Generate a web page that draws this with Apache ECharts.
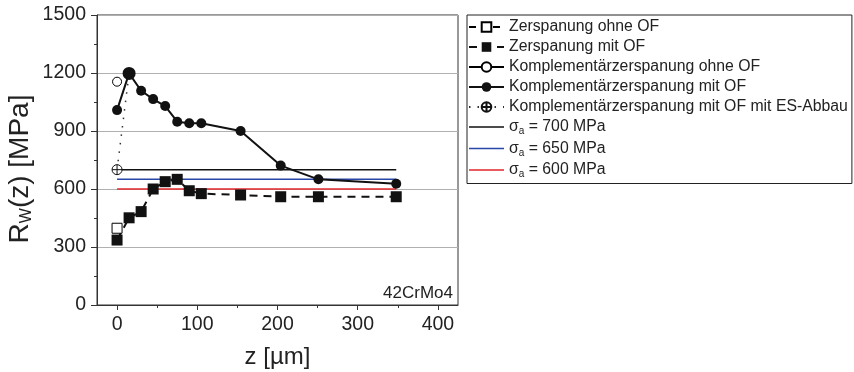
<!DOCTYPE html>
<html>
<head>
<meta charset="utf-8">
<script src="https://cdn.jsdelivr.net/npm/echarts@6/dist/echarts.min.js"></script>
<style>html,body{margin:0;padding:0;background:#fff}#c{width:854px;height:372px}</style>
</head>
<body>
<div id="c"></div>
<script>
// ---- data ----
var zerspOhneOF = [[0, 397]];
var zerspMitOF_x = [0, 15, 30, 45, 60, 75, 90, 105, 154, 204, 251, 348];
var zerspMitOF_y = [336, 451, 483, 600, 638, 650, 591, 576, 569, 560, 560, 560];
var komplOhneOF = [[0, 1155]];
var komplMitOF_x = [0, 15, 30, 45, 60, 75, 90, 105, 154, 204, 251, 348];
var komplMitOF_y = [1008, 1198, 1108, 1065, 1029, 948, 940, 940, 900, 721, 650, 627];
var esAbbau_x = [0, 15];
var esAbbau_y = [700, 1198];
var sigmaLevels = [700, 650, 600];
var sigmaRange = [0, 348];
var xTicks = [0, 100, 200, 300, 400];
var xMinorTicks = [50, 150, 250, 350];

var font = 'Liberation Sans, Arial, sans-serif';
function zip(xs, ys) { return xs.map(function (x, i) { return [x, ys[i]]; }); }
var plusCircle = 'path://M0,10A10,10,0,1,1,20,10A10,10,0,1,1,0,10ZM10,0L10,20M0,10L20,10';
var lineIcon = 'path://M0,0L0.01,0L0.01,0.01ZM0,5.3L35,5.3L35,6.7L0,6.7ZM34.99,12L35,12L35,11.99Z';

var sigmaNames = sigmaLevels.map(function (v) { return 'σa = ' + v + ' MPa'; });
var sigmaColors = ['#111111', '#2846a8', '#e2262a'];

var series = [
  {name: 'Zerspanung ohne OF', type: 'line', data: zerspOhneOF, symbol: 'rect', symbolSize: 10,
   itemStyle: {color: '#fff', borderColor: '#000', borderWidth: 1},
   lineStyle: {color: '#000', width: 2, type: [7, 5]}, z: 5},
  {name: 'Zerspanung mit OF', type: 'line', data: zip(zerspMitOF_x, zerspMitOF_y), symbol: 'rect', symbolSize: 11,
   itemStyle: {color: '#111'}, lineStyle: {color: '#111', width: 2, type: [8, 6]}, z: 4},
  {name: 'Komplementärzerspanung ohne OF', type: 'line', data: komplOhneOF, symbol: 'circle', symbolSize: 9,
   itemStyle: {color: '#fff', borderColor: '#000', borderWidth: 1}, lineStyle: {color: '#000', width: 2}, z: 5},
  {name: 'Komplementärzerspanung mit OF', type: 'line', data: zip(komplMitOF_x, komplMitOF_y), symbol: 'circle',
   symbolSize: function (v) { return v[0] === 15 ? 13 : 10; },
   itemStyle: {color: '#111'}, lineStyle: {color: '#111', width: 2}, z: 4},
  {name: 'Komplementärzerspanung mit OF mit ES-Abbau', type: 'line',
   data: zip(esAbbau_x, esAbbau_y).map(function (p, i) { return i === 0 ? {value: p} : {value: p, symbol: 'none'}; }),
   symbol: plusCircle, symbolSize: 10,
   itemStyle: {color: '#fff', borderColor: '#111', borderWidth: 1}, lineStyle: {color: '#333', width: 1.5, type: [1.5, 7]}, z: 3}
];
sigmaLevels.forEach(function (v, i) {
  series.push({name: sigmaNames[i], type: 'line', data: sigmaRange.map(function (x) { return [x, v]; }),
    symbol: 'none', lineStyle: {color: sigmaColors[i], width: 1.5}, itemStyle: {color: sigmaColors[i]}, z: 2});
});

var chart = echarts.init(document.getElementById('c'));
chart.setOption({
  animation: false,
  textStyle: {fontFamily: font},
  grid: {left: 97, right: 396, top: 15, bottom: 67, show: true, borderColor: '#333', borderWidth: 1,
         containLabel: false, outerBoundsMode: 'none'},
  legend: {
    orient: 'vertical', left: 467, top: 15, padding: [4, 4, 4, 1], itemGap: 4,
    itemWidth: 35, itemHeight: 12,
    borderColor: '#222', borderWidth: 1,
    data: series.map(function (s, i) { return i >= 5 ? {name: s.name, icon: lineIcon} : {name: s.name}; }),
    textStyle: {fontSize: 15.8, color: '#222', fontFamily: font,
      rich: {t: {fontSize: 15.8, color: '#222', fontFamily: font}, s: {fontSize: 10, color: '#222', fontFamily: font, padding: [9, 0, 0, 0]}}},
    formatter: function (n) {
      if (n.indexOf('σa') === 0) return '{t|σ}{s|a}{t|' + n.slice(2) + '}';
      return n;
    }
  },
  xAxis: [{
    type: 'value', min: -25, max: 425,
    name: 'z [µm]', nameLocation: 'middle', nameGap: 40,
    nameTextStyle: {fontSize: 24, color: '#222', fontFamily: font},
    axisLine: {show: true, onZero: false, lineStyle: {color: '#333', width: 1}},
    axisTick: {show: true, inside: false, length: 5, customValues: xTicks, lineStyle: {color: '#333'}},
    axisLabel: {fontSize: 19.5, color: '#222', margin: 10, customValues: xTicks},
    splitLine: {show: false}
  }, {
    type: 'value', min: -25, max: 425, position: 'bottom',
    axisLine: {show: false, onZero: false},
    axisTick: {show: true, inside: false, length: 3, customValues: xMinorTicks, lineStyle: {color: '#333'}},
    axisLabel: {show: false},
    splitLine: {show: false}
  }],
  yAxis: {
    type: 'value', min: 0, max: 1500, interval: 300,
    name: '{a|R}{b|W}{a|(z) [MPa]}', nameLocation: 'middle', nameGap: 62, nameRotate: 90,
    nameTextStyle: {color: '#222', fontFamily: font, padding: [0, 18, 0, 0],
      rich: {a: {fontSize: 28, color: '#222', fontFamily: font}, b: {fontSize: 16, color: '#222', fontFamily: font, padding: [13, 0, 0, 0]}}},
    axisLine: {show: true, onZero: false, lineStyle: {color: '#333', width: 1}},
    axisTick: {show: true, inside: false, length: 6, lineStyle: {color: '#333'}},
    minorTick: {show: true, splitNumber: 2, length: 3, lineStyle: {color: '#333'}},
    axisLabel: {fontSize: 19.5, color: '#222', margin: 11, formatter: function (v) { return String(v); }},
    splitLine: {show: true, lineStyle: {color: '#b0b0b0', width: 1.2}}
  },
  graphic: [{
    type: 'text', right: 854 - 453, top: 285,
    style: {text: '42CrMo4', fontSize: 17, fill: '#222', fontFamily: font}
  }],
  series: series
});
</script>
</body>
</html>
